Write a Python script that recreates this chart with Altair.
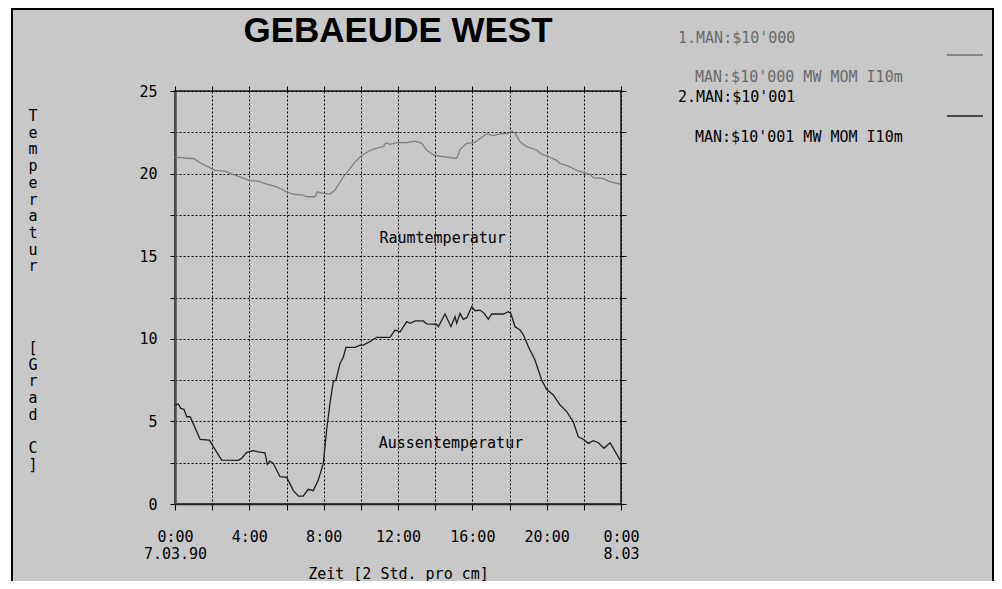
import altair as alt
import pandas as pd

# ---------------- data ----------------
raum_hours = [0.00, 1.02, 1.44, 1.97, 2.15, 2.69, 3.12, 4.04, 4.47, 4.93, 5.47, 6.01, 6.37, 6.90,
              7.09, 7.53, 7.66, 7.98, 8.34, 8.61, 9.06, 9.42, 9.69, 10.05, 10.49, 10.94, 11.21,
              11.35, 11.57, 11.93, 12.47, 12.92, 13.28, 13.54, 13.90, 14.26, 14.89, 15.16, 15.34,
              15.70, 16.14, 16.41, 16.77, 17.13, 17.49, 17.94, 18.12, 18.30, 18.57, 18.93, 19.46,
              19.73, 20.00, 20.54, 20.72, 21.08, 21.62, 21.97, 22.33, 22.51, 23.05, 23.41, 23.95]
raum_temp = [21.0, 20.9, 20.6, 20.3, 20.2, 20.15, 19.95, 19.57, 19.55, 19.37, 19.2, 18.9, 18.75, 18.7,
             18.6, 18.6, 18.9, 18.8, 18.76, 19.0, 19.8, 20.3, 20.7, 21.1, 21.4, 21.57, 21.63,
             21.87, 21.77, 21.87, 21.87, 21.97, 21.83, 21.43, 21.13, 21.05, 20.96, 20.92, 21.47,
             21.83, 21.89, 22.13, 22.4, 22.3, 22.4, 22.44, 22.58, 22.44, 21.93, 21.63, 21.43,
             21.17, 21.08, 20.8, 20.6, 20.5, 20.2, 20.08, 19.96, 19.75, 19.7, 19.5, 19.37]

aussen_hours = [0.00, 0.18, 0.31, 0.48, 0.63, 0.81, 0.98, 1.35, 1.85, 2.06, 2.51, 3.41, 3.59, 3.86,
                4.21, 4.48, 4.84, 4.97, 5.11, 5.29, 5.65, 6.01, 6.37, 6.64, 6.90, 7.17, 7.44, 7.71,
                7.98, 8.16, 8.34, 8.52, 8.66, 8.88, 9.06, 9.20, 9.69, 9.96, 10.13, 10.49, 10.85,
                11.57, 11.84, 12.11, 12.47, 12.65, 12.92, 13.36, 13.54, 14.08, 14.17, 14.53, 14.85,
                15.07, 15.16, 15.34, 15.51, 15.70, 15.97, 16.14, 16.41, 16.64, 16.86, 17.04, 17.67,
                17.94, 18.07, 18.30, 18.57, 18.75, 19.02, 19.37, 19.73, 20.00, 20.36, 20.72, 21.08,
                21.43, 21.70, 21.97, 22.24, 22.51, 22.78, 23.09, 23.41, 23.59, 23.95]
aussen_temp = [5.99, 6.05, 5.79, 5.73, 5.28, 5.28, 4.88, 3.91, 3.87, 3.47, 2.66, 2.64, 2.77, 3.13,
               3.23, 3.15, 3.1, 2.4, 2.6, 2.46, 1.65, 1.61, 0.81, 0.48, 0.48, 0.89, 0.81, 1.45,
               2.46, 4.48, 6.1, 7.4, 7.5, 8.5, 8.9, 9.48, 9.48, 9.62, 9.62, 9.83, 10.09,
               10.09, 10.53, 10.41, 11.04, 10.94, 11.08, 11.08, 10.9, 10.88, 10.73, 11.5, 10.73,
               11.34, 10.94, 11.54, 11.18, 11.28, 11.94, 11.7, 11.74, 11.54, 11.18, 11.5, 11.5,
               11.64, 11.54, 10.73, 10.53, 10.23, 9.52, 8.72, 7.51, 6.94, 6.6, 5.99, 5.59,
               4.98, 4.07, 3.92, 3.67, 3.83, 3.71, 3.37, 3.71, 3.37, 2.66]

x_tick_values = [0, 2, 4, 6, 8, 10, 12, 14, 16, 18, 20, 22, 24]
y_tick_values = [0, 2.5, 5, 7.5, 10, 12.5, 15, 17.5, 20, 22.5, 25]

title_text = "GEBAEUDE WEST"
x_title = "Zeit [2 Std. pro cm]"
y_title_words = ["Temperatur", "[Grad", "C]"]
legend_labels = ["1.MAN:$10'000", "MAN:$10'000 MW MOM I10m",
                 "2.MAN:$10'001", "MAN:$10'001 MW MOM I10m"]
ann_text = ["Raumtemperatur", "Aussentemperatur"]
ann_h = [14.4, 14.85]
ann_t = [16.1, 3.7]

MONO = "DejaVu Sans Mono"
BG = "#c8c8c8"

raum_df = pd.DataFrame({"h": raum_hours, "t": raum_temp})
aussen_df = pd.DataFrame({"h": aussen_hours, "t": aussen_temp})
ann_df = pd.DataFrame({"h": ann_h, "t": ann_t, "label": ann_text})

xscale = alt.Scale(domain=[0, 24], nice=False)
yscale = alt.Scale(domain=[0, 25], nice=False)

x_label_expr = ("datum.value == 0 ? ['0:00', '7.03.90'] : "
                "(datum.value == 24 ? ['0:00', '8.03'] : "
                "(datum.value % 4 == 0 ? datum.value + ':00' : ''))")

raum = alt.Chart(raum_df).mark_line(color="#808080", strokeWidth=1.3).encode(
    x=alt.X("h:Q", scale=xscale, axis=alt.Axis(
        orient="bottom", values=x_tick_values, labelExpr=x_label_expr,
        labelOverlap=False, labelFlush=False, tickSize=6, tickColor="#000",
        labelPadding=19, labelLineHeight=17, labelFont=MONO, labelFontSize=15,
        labelColor="#000", grid=True, gridDash=[2, 2], gridColor="#000",
        gridOpacity=1, gridWidth=1, domainColor="#222", domainWidth=1.5,
        title=x_title, titleFont=MONO, titleFontSize=15, titleFontWeight="normal",
        titleColor="#000", titleX=223, titleY=74, titleAlign="center",
        titleBaseline="alphabetic")),
    y=alt.Y("t:Q", scale=yscale, axis=alt.Axis(
        orient="left", values=y_tick_values,
        labelExpr="datum.value % 5 == 0 ? datum.label : ''",
        labelOverlap=False, labelFlush=False, tickSize=5, tickColor="#000",
        labelPadding=13, labelFont=MONO, labelFontSize=15, labelColor="#000",
        grid=True, gridDash=[2, 2], gridColor="#000", gridOpacity=1, gridWidth=1,
        domainColor="#4d4d4d", domainWidth=2.5, title=None)),
)

aussen = alt.Chart(aussen_df).mark_line(color="#1e1e1e", strokeWidth=1.3).encode(
    x=alt.X("h:Q", scale=xscale, axis=alt.Axis(
        orient="top", values=x_tick_values, labels=False, tickSize=5, tickColor="#000",
        grid=False, domain=False, title=None)),
    y=alt.Y("t:Q", scale=yscale, axis=alt.Axis(
        orient="right", values=y_tick_values, labels=False, tickSize=5, tickColor="#000",
        grid=False, domain=False, title=None)),
)

ann = alt.Chart(ann_df).mark_text(font=MONO, fontSize=15, color="#000",
                                  align="center", baseline="middle").encode(
    x=alt.X("h:Q", scale=xscale, axis=None),
    y=alt.Y("t:Q", scale=yscale, axis=None),
    text="label:N")

one = alt.Data(values=[{"k": 1}])


def label(txt, x, y, color, align="left", font=MONO, size=15, weight="normal",
          baseline="middle", line_break="", line_height=16.7):
    props = dict(font=font, fontSize=size, color=color, align=align, baseline=baseline,
                 fontWeight=weight, lineHeight=line_height)
    if line_break:
        props["lineBreak"] = line_break
    return alt.Chart(one).mark_text(**props).encode(
        x=alt.value(x), y=alt.value(y), text=alt.value(txt))


def hline(x1, x2, y, color, w):
    return alt.Chart(one).mark_rule(color=color, strokeWidth=w).encode(
        x=alt.value(x1), x2=alt.value(x2), y=alt.value(y))


def vline(x, y1, y2, color, w):
    return alt.Chart(one).mark_rule(color=color, strokeWidth=w).encode(
        x=alt.value(x), y=alt.value(y1), y2=alt.value(y2))


def box(x1, x2, y1, y2, color):
    return alt.Chart(one).mark_rect(color=color).encode(
        x=alt.value(x1), x2=alt.value(x2), y=alt.value(y1), y2=alt.value(y2))


def stacked(word):
    # one character per line, as in the vertical axis title of the original
    return "\n".join(list(word))


decor = [
    box(-170, -164, -90, 600, "white"),
    box(819, 840, -90, 600, "white"),
    vline(-163, -90, 600, "#000", 2),
    vline(818, -90, 600, "#000", 2),
    hline(-164, 818, -82, "#000", 2),
    label(title_text, 223, -49, "#000", align="center",
          font="Liberation Sans", size=35, weight="bold", baseline="alphabetic"),
    label(stacked(y_title_words[0]), -142, 18, "#000", align="center", baseline="top",
          line_break="\n"),
    label(stacked(y_title_words[1]), -142, 250, "#000", align="center", baseline="top",
          line_break="\n"),
    label(stacked(y_title_words[2]), -142, 350, "#000", align="center", baseline="top",
          line_break="\n"),
    label(legend_labels[0], 503, -53, "#6a6a6a"),
    hline(772, 808, -36, "#707070", 1.5),
    label(legend_labels[1], 520, -14, "#6a6a6a"),
    label(legend_labels[2], 503, 6, "#000"),
    hline(772, 808, 25, "#202020", 1.5),
    label(legend_labels[3], 520, 46, "#000"),
]

chart = alt.layer(raum, aussen, ann, *decor).resolve_axis(
    x="independent", y="independent"
).properties(
    width=446, height=413,
    autosize=alt.AutoSizeParams(type="none"),
    padding={"left": 167, "top": 83, "right": 373, "bottom": 77},
).configure(background=BG).configure_view(stroke="#1a1a1a", strokeWidth=1.5)

chart.save("out.html", embed_options={"renderer": "svg", "actions": False})
